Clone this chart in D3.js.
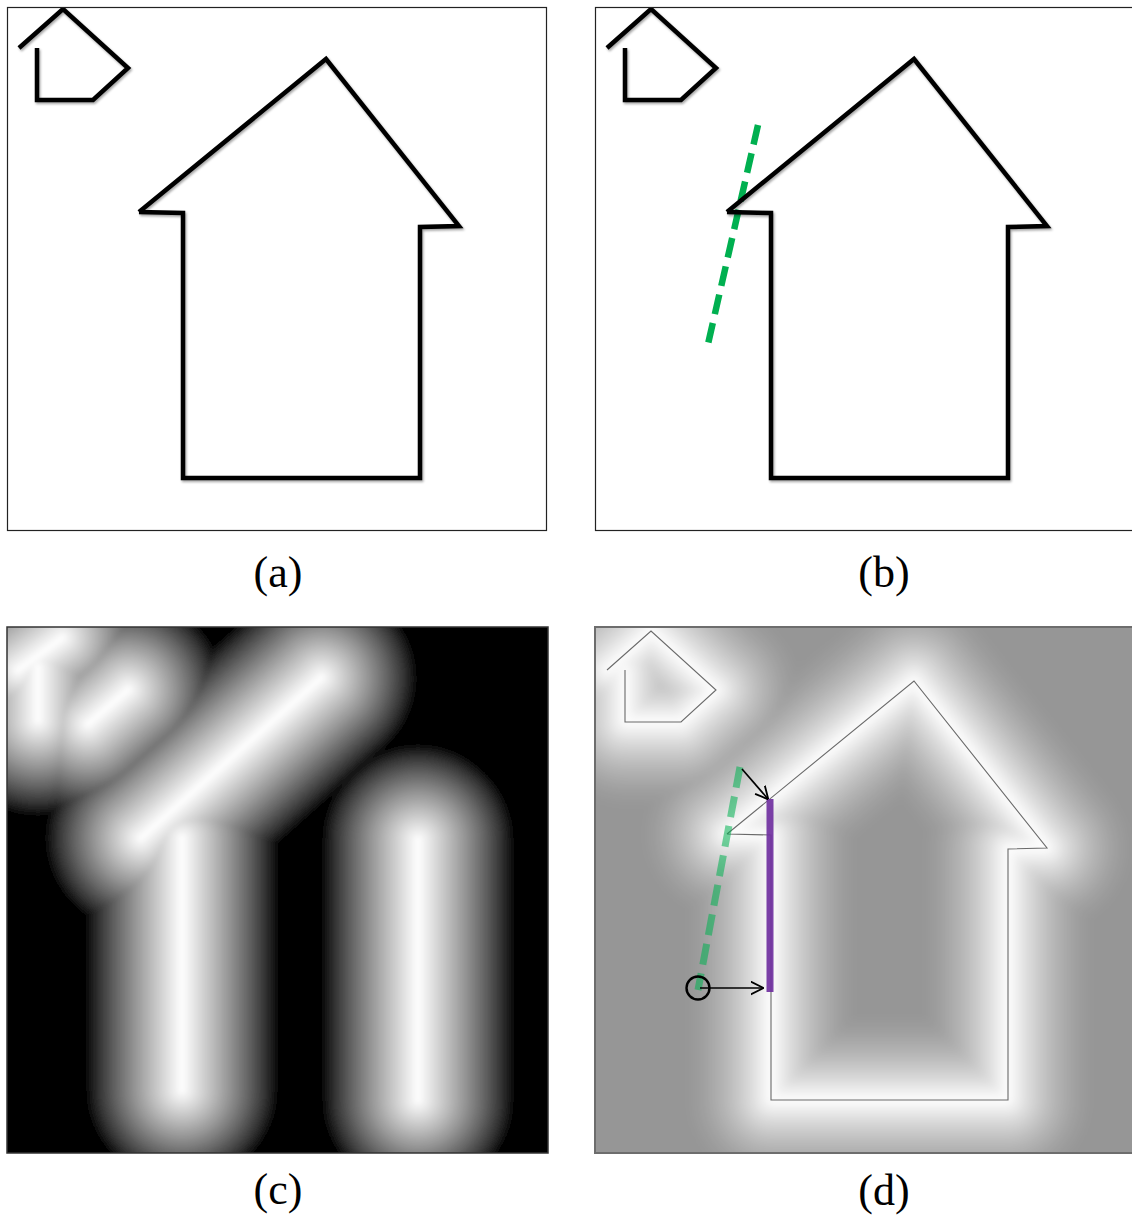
<!DOCTYPE html>
<html>
<head>
<meta charset="utf-8">
<script src="https://d3js.org/d3.v7.min.js"></script>
<style>
body { margin: 0; background: #fff; }
svg { display: block; }
.lbl { font-family: "Palatino Linotype", "Book Antiqua", Palatino, "Liberation Serif", serif; font-size: 44px; fill: #000; }
</style>
</head>
<body>
<svg id="fig" width="1132" height="1217"></svg>
<script>
// house outlines, in the pixel coords of panel (a)
var smallHouse = [[19,48],[63,9],[128,68],[93,100],[37,100],[37,48]];
var bigHouse = [[139,212],[326,59],[459,226],[420,227],[420,478],[183,478],[183,213],[139,212]];

// segments that light up in the distance map (c)
var mapSegs = [
  [[18,50],[62,18]],
  [[38,47],[38,100]],
  [[88,104],[128,70]],
  [[141,218],[321,58]],
  [[182,218],[182,470]],
  [[418,220],[418,480]]
];

// panel frames in page coords [x, y, w, h] and where the drawing sits
var frames = {a:[7,7,539,523], b:[595,7,539,523], c:[7,627,541,526], d:[595,627,539,526]};
var offsets = {a:[0,0], b:[588,0], c:[0,620], d:[588,622]};
var labels = [["(a)",278,587],["(b)",884,587],["(c)",278,1204],["(d)",884,1205]];

// fitted line (b) and moved line + annotations (d)
var fitLineB = [[758,125],[708,344]];
var fitLineD = [[740,767],[698,990]];
var wallSeg = [[770,799],[770,992]];
var arrows = [[[742,769],[768,799]],[[700,988],[763,988]]];
var pivot = [698,988];

var svg = d3.select("#fig");
var defs = svg.append("defs");

var line = d3.line();

defs.append("filter").attr("id","shadow")
  .attr("x","-5%").attr("y","-5%").attr("width","110%").attr("height","110%")
  .append("feDropShadow")
  .attr("dx",1.2).attr("dy",1.8).attr("stdDeviation",1.3)
  .attr("flood-color","#000").attr("flood-opacity",0.35);

defs.append("filter").attr("id","blurC")
  .append("feGaussianBlur").attr("stdDeviation",2);
defs.append("filter").attr("id","blurD")
  .append("feGaussianBlur").attr("stdDeviation",4);

defs.append("marker").attr("id","arr")
  .attr("viewBox","0 0 12 14").attr("refX",11.5).attr("refY",7)
  .attr("markerWidth",13).attr("markerHeight",15)
  .attr("markerUnits","userSpaceOnUse").attr("orient","auto")
  .append("path").attr("d","M0,1L12,7L0,13")
  .attr("fill","none").attr("stroke","#000").attr("stroke-width",1.7);

Object.keys(frames).forEach(function(k) {
  var f = frames[k];
  defs.append("clipPath").attr("id","clip-"+k)
    .append("rect").attr("x",f[0]).attr("y",f[1]).attr("width",f[2]).attr("height",f[3]);
});

function segPath(segs, off) {
  return segs.map(function(s) {
    return "M" + (s[0][0]+off[0]) + "," + (s[0][1]+off[1]) +
           "L" + (s[1][0]+off[0]) + "," + (s[1][1]+off[1]);
  }).join("");
}

function toSegs(poly) {
  return d3.pairs(poly);
}

function shift(poly, off) {
  return poly.map(function(p) { return [p[0]+off[0], p[1]+off[1]]; });
}

// distance map: nested round-capped strokes, brightest last => max over segments
function drawField(k, segs, R, lo, hi, N, gamma, blurId) {
  var f = frames[k];
  var gray = d3.scaleLinear().domain([0,1]).range([lo,hi]);
  var outer = svg.append("g").attr("clip-path","url(#clip-"+k+")");
  var g = outer.append("g").attr("filter","url(#"+blurId+")");
  g.append("rect").attr("x",f[0]-20).attr("y",f[1]-20)
    .attr("width",f[2]+40).attr("height",f[3]+40).attr("fill",lo);
  var d = segPath(segs, offsets[k]);
  d3.range(N).forEach(function(i) {
    g.append("path").attr("d",d)
      .attr("fill","none")
      .attr("stroke", gray(Math.pow((i+0.5)/N, gamma)))
      .attr("stroke-width", 2*R*(1-i/N))
      .attr("stroke-linecap","round")
      .attr("stroke-linejoin","round");
  });
  return outer;
}

// (a) and (b): outlines
["a","b"].forEach(function(k) {
  var f = frames[k];
  var g = svg.append("g").attr("clip-path","url(#clip-"+k+")");
  g.append("rect").attr("x",f[0]).attr("y",f[1]).attr("width",f[2]).attr("height",f[3])
    .attr("fill","#fff");
  if (k === "b") {
    g.append("path").attr("d", line(fitLineB))
      .attr("stroke","#00b050").attr("stroke-width",6.5)
      .attr("stroke-dasharray","20,9").attr("fill","none");
  }
  var hg = g.append("g").attr("filter","url(#shadow)");
  [smallHouse, bigHouse].forEach(function(h) {
    hg.append("path").attr("d", line(shift(h, offsets[k])))
      .attr("fill","none").attr("stroke","#000").attr("stroke-width",4.5)
      .attr("stroke-linejoin","miter").attr("stroke-linecap","butt");
  });
  svg.append("rect").attr("x",f[0]+0.5).attr("y",f[1]+0.5)
    .attr("width",f[2]).attr("height",f[3])
    .attr("fill","none").attr("stroke","#222").attr("stroke-width",1.2);
});

// (c): distance map of the selected segments
drawField("c", mapSegs, 96, "#000000", "#ffffff", 64, 0.8, "blurC");
svg.append("rect").attr("x",frames.c[0]).attr("y",frames.c[1])
  .attr("width",frames.c[2]).attr("height",frames.c[3])
  .attr("fill","none").attr("stroke","#333").attr("stroke-width",1.5);

// (d): map of all segments on gray, with the outline and the fit on top
var allSegs = toSegs(smallHouse).concat(toSegs(bigHouse));
var dG = drawField("d", allSegs, 88, "#969696", "#ffffff", 64, 1.6, "blurD");
[smallHouse, bigHouse].forEach(function(h) {
  dG.append("path").attr("d", line(shift(h, offsets.d)))
    .attr("fill","none").attr("stroke","#6a6a6a").attr("stroke-width",1.1);
});
dG.append("path").attr("d", line(fitLineD))
  .attr("stroke","#00b050").attr("stroke-opacity",0.55).attr("stroke-width",7)
  .attr("stroke-dasharray","21,9").attr("fill","none");
dG.append("path").attr("d", line(wallSeg))
  .attr("stroke","#7030a0").attr("stroke-opacity",0.92).attr("stroke-width",7)
  .attr("fill","none");
arrows.forEach(function(a) {
  dG.append("path").attr("d", line(a))
    .attr("stroke","#000").attr("stroke-width",1.7).attr("fill","none")
    .attr("marker-end","url(#arr)");
});
dG.append("circle").attr("cx",pivot[0]).attr("cy",pivot[1]).attr("r",11.5)
  .attr("fill","none").attr("stroke","#000").attr("stroke-width",2.4);
svg.append("rect").attr("x",frames.d[0]).attr("y",frames.d[1])
  .attr("width",frames.d[2]).attr("height",frames.d[3])
  .attr("fill","none").attr("stroke","#6d6d6d").attr("stroke-width",2);

// captions
svg.selectAll("text.lbl").data(labels).enter().append("text")
  .attr("class","lbl")
  .attr("x", function(d) { return d[1]; })
  .attr("y", function(d) { return d[2]; })
  .attr("text-anchor","middle")
  .text(function(d) { return d[0]; });
</script>
</body>
</html>
